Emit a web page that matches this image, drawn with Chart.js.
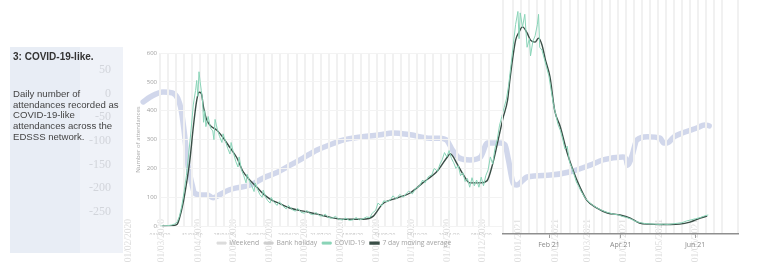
<!DOCTYPE html>
<html>
<head>
<meta charset="utf-8">
<script src="https://cdn.jsdelivr.net/npm/chart.js@4.4.1/dist/chart.umd.min.js"></script>
<style>
  html, body { margin: 0; padding: 0; background: #ffffff; }
  #stage { position: relative; width: 768px; height: 279px; overflow: hidden; background: #ffffff; }
  canvas { position: absolute; top: 0; }
  .panelA { position: absolute; left: 10px; top: 47px; width: 70px; height: 206px; background: #e8edf5; }
  .panelB { position: absolute; left: 80px; top: 47px; width: 43px; height: 206px; background: #eff2f8; }
  .ptitle { position: absolute; left: 13px; top: 51px; font: bold 10px "Liberation Sans", Arial, sans-serif; color: #333; white-space: nowrap; z-index: 10; }
  .pbody { position: absolute; left: 13px; top: 89px; font: 9.6px/10.7px "Liberation Sans", Arial, sans-serif; color: #444; white-space: nowrap; z-index: 10; }
</style>
</head>
<body>
<div id="stage">
  <div class="panelA"></div>
  <div class="panelB"></div>
  <canvas id="ghost" width="768" height="279" style="left:0"></canvas>
  <canvas id="chartA" width="414" height="279" style="left:120px"></canvas>
  <canvas id="chartB" width="768" height="279" style="left:0"></canvas>
  <div class="ptitle">3: COVID-19-like.</div>
  <div class="pbody">Daily number of<br>attendances recorded as<br>COVID-19-like<br>attendances across the<br>EDSSS network.</div>
</div>
<script>
// ---------------- DATA ----------------
const covidDates = ['2020-03-03','2020-03-07','2020-03-10','2020-03-13','2020-03-16','2020-03-18','2020-03-20','2020-03-22','2020-03-24','2020-03-26','2020-03-28','2020-03-30','2020-04-01','2020-04-03','2020-04-04','2020-04-05','2020-04-06','2020-04-07','2020-04-08','2020-04-09','2020-04-10','2020-04-11','2020-04-12','2020-04-14','2020-04-16','2020-04-18','2020-04-19','2020-04-20','2020-04-22','2020-04-24','2020-04-26','2020-04-27','2020-04-29','2020-05-01','2020-05-03','2020-05-04','2020-05-06','2020-05-08','2020-05-10','2020-05-11','2020-05-13','2020-05-15','2020-05-17','2020-05-18','2020-05-20','2020-05-22','2020-05-24','2020-05-25','2020-05-27','2020-05-29','2020-05-31','2020-06-01','2020-06-03','2020-06-05','2020-06-07','2020-06-08','2020-06-10','2020-06-13','2020-06-15','2020-06-18','2020-06-21','2020-06-23','2020-06-26','2020-06-29','2020-07-01','2020-07-04','2020-07-07','2020-07-09','2020-07-12','2020-07-15','2020-07-17','2020-07-20','2020-07-23','2020-07-25','2020-07-28','2020-07-31','2020-08-03','2020-08-06','2020-08-09','2020-08-12','2020-08-15','2020-08-18','2020-08-21','2020-08-24','2020-08-27','2020-08-30','2020-09-02','2020-09-04','2020-09-07','2020-09-09','2020-09-12','2020-09-14','2020-09-17','2020-09-20','2020-09-22','2020-09-25','2020-09-28','2020-10-01','2020-10-04','2020-10-06','2020-10-09','2020-10-12','2020-10-15','2020-10-18','2020-10-20','2020-10-23','2020-10-26','2020-10-28','2020-10-31','2020-11-02','2020-11-04','2020-11-06','2020-11-08','2020-11-10','2020-11-12','2020-11-14','2020-11-16','2020-11-18','2020-11-20','2020-11-22','2020-11-24','2020-11-26','2020-11-28','2020-11-30','2020-12-02','2020-12-04','2020-12-06','2020-12-08','2020-12-10','2020-12-12','2020-12-14','2020-12-16','2020-12-18','2020-12-20','2020-12-22','2020-12-24','2020-12-26','2020-12-28','2020-12-30','2021-01-01','2021-01-03','2021-01-05','2021-01-07','2021-01-09','2021-01-10','2021-01-11','2021-01-13','2021-01-15','2021-01-17','2021-01-19','2021-01-20','2021-01-22','2021-01-24','2021-01-26','2021-01-27','2021-01-28','2021-01-30','2021-02-01','2021-02-03','2021-02-05','2021-02-07','2021-02-09','2021-02-11','2021-02-13','2021-02-15','2021-02-17','2021-02-19','2021-02-21','2021-02-23','2021-02-25','2021-02-27','2021-03-01','2021-03-03','2021-03-05','2021-03-07','2021-03-09','2021-03-12','2021-03-15','2021-03-18','2021-03-21','2021-03-24','2021-03-27','2021-03-30','2021-04-02','2021-04-06','2021-04-10','2021-04-14','2021-04-18','2021-04-22','2021-04-26','2021-04-30','2021-05-04','2021-05-08','2021-05-12','2021-05-16','2021-05-20','2021-05-24','2021-05-28','2021-06-01','2021-06-05','2021-06-09','2021-06-13','2021-06-17','2021-06-21','2021-06-24'];
const covidValues = [0,1,2,4,8,15,35,70,120,175,250,330,420,470,505,450,535,500,470,440,360,400,345,380,340,330,300,370,335,310,290,320,295,270,250,290,255,225,205,240,195,175,150,180,155,140,120,150,128,110,100,125,100,88,80,100,85,72,85,70,60,72,58,52,62,48,45,55,42,40,48,36,35,42,30,28,34,24,22,28,20,22,30,22,26,32,30,45,55,80,70,88,85,92,105,95,110,100,115,122,112,132,138,160,150,172,178,200,190,215,230,255,240,262,235,220,200,210,175,185,155,165,135,168,140,160,135,170,140,175,195,240,215,270,300,350,380,410,440,490,560,630,700,745,650,740,690,735,620,650,590,640,660,700,735,620,610,580,550,520,470,420,385,350,330,300,265,275,220,200,175,150,135,118,105,92,80,70,62,55,50,45,42,38,36,30,26,20,12,8,5,4,3,2,3,2,4,6,8,14,18,22,26,32,35];

const avgDates = ['2020-03-05','2020-03-14','2020-03-18','2020-03-20','2020-03-23','2020-03-26','2020-03-29','2020-04-01','2020-04-04','2020-04-06','2020-04-08','2020-04-10','2020-04-13','2020-04-22','2020-04-27','2020-05-03','2020-05-09','2020-05-14','2020-05-21','2020-05-27','2020-06-01','2020-06-07','2020-06-16','2020-06-24','2020-07-06','2020-07-18','2020-07-29','2020-08-10','2020-08-27','2020-09-05','2020-09-13','2020-09-26','2020-10-07','2020-10-18','2020-10-31','2020-11-08','2020-11-11','2020-11-17','2020-11-22','2020-11-28','2020-12-07','2020-12-13','2020-12-18','2020-12-24','2020-12-27','2020-12-31','2021-01-02','2021-01-07','2021-01-10','2021-01-13','2021-01-17','2021-01-20','2021-01-24','2021-01-27','2021-01-30','2021-02-02','2021-02-06','2021-02-10','2021-02-15','2021-02-21','2021-02-26','2021-03-04','2021-03-10','2021-03-19','2021-03-28','2021-04-08','2021-04-17','2021-04-25','2021-05-04','2021-05-13','2021-05-22','2021-05-30','2021-06-08','2021-06-17','2021-06-23'];
const avgValues = [0,2,7,28,77,146,227,342,436,464,460,411,366,331,307,272,237,192,157,133,112,94,77,63,52,42,31,24,24,35,77,98,115,150,192,237,251,216,181,150,150,157,216,321,373,436,506,645,673,691,670,645,638,652,628,576,516,401,342,251,192,133,87,59,42,35,24,7,3,2,2,3,10,24,31];

// faint background series (other chart, own axis)
const ghostDates = ['2020-02-14','2020-02-20','2020-03-02','2020-03-10','2020-03-17','2020-03-20','2020-03-23','2020-03-27','2020-03-29','2020-04-03','2020-04-09','2020-04-14','2020-04-18','2020-04-22','2020-04-28','2020-05-04','2020-05-16','2020-05-27','2020-06-08','2020-06-19','2020-06-30','2020-07-12','2020-07-23','2020-08-03','2020-08-20','2020-09-04','2020-09-15','2020-09-30','2020-10-17','2020-10-25','2020-10-31','2020-11-05','2020-11-11','2020-11-20','2020-11-29','2020-12-05','2020-12-16','2020-12-20','2020-12-23','2020-12-27','2020-12-30','2021-01-08','2021-01-28','2021-02-14','2021-03-03','2021-03-14','2021-03-31','2021-04-03','2021-04-04','2021-04-08','2021-04-12','2021-04-21','2021-05-02','2021-05-05','2021-05-08','2021-05-14','2021-05-21','2021-06-03','2021-06-09','2021-06-13'];
const ghostValues = [-17.5,-7,3.6,1.5,-28,-77,-146,-193,-210,-214,-214,-220,-216,-210,-203,-199,-193,-178,-166,-151,-136,-119,-108,-98,-91,-87,-83,-87,-94,-94,-98,-119,-136,-140,-134,-104,-104,-108,-140,-189,-193,-176,-172,-165,-151,-140,-134,-140,-151,-130,-98,-91,-94,-104,-104,-91,-83,-72,-66,-68];

const ghostYTicks = [50, 0, -50, -100, -150, -200, -250];
const ghostXTicks = ['01/02/2020','01/03/2020','01/04/2020','01/05/2020','01/06/2020','01/07/2020','01/08/2020','01/09/2020','01/10/2020','01/11/2020','01/12/2020','01/01/2021','01/02/2021','01/03/2021','01/04/2021','01/05/2021','01/06/2021'];
const mainXTicks = ['03/03/20','31/03/20','28/04/20','26/05/20','23/06/20','21/07/20','18/08/20','15/09/20','13/10/20','10/11/20','08/12/20'];
const lateXTickDates = ['2021-02-01','2021-04-01','2021-06-01'];
const lateXTicks = ['Feb 21','Apr 21','Jun 21'];
const yTicks = [0, 100, 200, 300, 400, 500, 600];
const legendNames = ['Weekend', 'Bank holiday', 'COVID-19', '7 day moving average'];

// ---------------- helpers ----------------
const BASE = Date.UTC(2020, 2, 3);
function dayIso(s) { const [y, m, d] = s.split('-').map(Number); return (Date.UTC(y, m - 1, d) - BASE) / 864e5; }
function dayDMY(s) { let [d, m, y] = s.split('/').map(Number); if (y < 100) y += 2000; return (Date.UTC(y, m - 1, d) - BASE) / 864e5; }
const covidPts = covidDates.map((d, i) => ({ x: dayIso(d), y: covidValues[i] }));
const avgPts = avgDates.map((d, i) => ({ x: dayIso(d), y: avgValues[i] }));
const ghostPts = ghostDates.map((d, i) => ({ x: dayIso(d), y: ghostValues[i] }));

Chart.defaults.font.family = '"Open Sans", "DejaVu Sans", sans-serif';
Chart.defaults.devicePixelRatio = 1;
const base = { responsive: false, animation: false, events: [], plugins: { legend: { display: false }, tooltip: { enabled: false } } };

const COVID_COL = '#8ad4b8';
const AVG_COL = '#3a4f47';
const WEEK_GRID = '#f1f1f1';

// ---------------- ghost background chart ----------------
new Chart(document.getElementById('ghost'), {
  type: 'line',
  data: { datasets: [{ data: ghostPts, borderColor: 'rgba(198,205,230,0.8)', borderWidth: 5.5, pointRadius: 0, cubicInterpolationMode: 'monotone', borderCapStyle: 'round', borderJoinStyle: 'round', clip: false }] },
  options: Object.assign({}, base, {
    layout: { padding: { top: 70, right: 28, left: 0, bottom: 0 }, autoPadding: false },
    scales: {
      x: { type: 'linear', min: -41.3, max: 493.4,
        afterBuildTicks: s => { s.ticks = ghostXTicks.map(t => ({ value: dayDMY(t) })); },
        ticks: { autoSkip: false, minRotation: 90, maxRotation: 90, padding: 7, color: '#dedede', font: { size: 9.5, family: '"Liberation Serif", "DejaVu Serif", serif' }, callback: (v, i) => ghostXTicks[i] },
        grid: { display: false, drawTicks: false }, border: { display: false },
        afterFit: s => { s.height = 67; } },
      y: { min: -250, max: 50,
        afterBuildTicks: s => { s.ticks = ghostYTicks.map(v => ({ value: v })); },
        ticks: { padding: 5, color: '#d2d5db', font: { size: 12, family: '"Liberation Serif", "DejaVu Serif", serif' } },
        grid: { display: false, drawTicks: false }, border: { display: false },
        afterFit: s => { s.width = 116; } }
    }
  })
});

// ---------------- main chart (2020 part) ----------------
new Chart(document.getElementById('chartA'), {
  type: 'line',
  data: { datasets: [
    { label: legendNames[0], data: [], borderColor: '#dcdcdc', backgroundColor: '#dcdcdc', borderWidth: 1 },
    { label: legendNames[1], data: [], borderColor: '#cfcfcf', backgroundColor: '#cfcfcf', borderWidth: 1 },
    { label: legendNames[2], data: covidPts, borderColor: COVID_COL, backgroundColor: COVID_COL, borderWidth: 1, pointRadius: 0, tension: 0 },
    { label: legendNames[3], data: avgPts, borderColor: AVG_COL, backgroundColor: AVG_COL, borderWidth: 1.4, pointRadius: 0, cubicInterpolationMode: 'monotone' }
  ] },
  options: Object.assign({}, base, {
    layout: { padding: { top: 53, right: 0, left: 14.4, bottom: 22.5 }, autoPadding: false },
    plugins: {
      tooltip: { enabled: false },
      legend: { display: true, position: 'bottom',
        labels: { boxWidth: 9, boxHeight: 2, padding: 5, color: '#a3a3a3', font: { size: 6.8 } } }
    },
    scales: {
      x: { type: 'linear', min: 0, max: 299.0,
        afterBuildTicks: s => { s.ticks = mainXTicks.map(t => ({ value: dayDMY(t) })); },
        ticks: { autoSkip: false, maxRotation: 0, padding: 6, color: '#bbbbbb', font: { size: 5 }, callback: (v, i) => mainXTicks[i] },
        grid: { display: false, drawTicks: false }, border: { display: false },
        afterFit: s => { s.height = 8.5; } },
      xw: { type: 'linear', position: 'bottom', min: 0, max: 299.0,
        ticks: { display: false, stepSize: 7, maxTicksLimit: 1000 },
        grid: { color: WEEK_GRID, lineWidth: 2, drawTicks: false }, border: { display: false },
        afterFit: s => { s.height = 0; } },
      y: { min: 0, max: 600,
        afterBuildTicks: s => { s.ticks = yTicks.map(v => ({ value: v })); },
        ticks: { padding: 3, color: '#9e9e9e', font: { size: 6 } },
        grid: { color: '#f3f3f3', drawTicks: false }, border: { display: false },
        title: { display: true, text: 'Number of attendances', color: '#ababab', font: { size: 6 }, padding: 0 },
        afterFit: s => { s.width = 25.6; } },
      yr: { position: 'right', display: true,
        ticks: { display: false }, grid: { display: false, drawTicks: false },
        border: { display: true, color: '#e3e3e3' },
        afterFit: s => { s.width = 31; } }
    }
  })
});

// ---------------- overlay chart (2021 part) ----------------
new Chart(document.getElementById('chartB'), {
  type: 'line',
  data: { datasets: [
    { label: legendNames[2], data: covidPts, borderColor: COVID_COL, borderWidth: 1, pointRadius: 0, tension: 0 },
    { label: legendNames[3], data: avgPts, borderColor: AVG_COL, borderWidth: 1.4, pointRadius: 0, cubicInterpolationMode: 'monotone' }
  ] },
  options: Object.assign({}, base, {
    layout: { padding: { top: 0, right: 30, left: 503, bottom: 0 }, autoPadding: false },
    scales: {
      x: { type: 'linear', display: false, min: 299.0, max: 503.9 },
      xw: { type: 'linear', position: 'bottom', min: 299.0, max: 503.9,
        ticks: { display: false, stepSize: 7, maxTicksLimit: 1000 },
        grid: { color: WEEK_GRID, lineWidth: 2, drawTicks: false }, border: { display: false },
        afterFit: s => { s.height = 0; } },
      xt: { type: 'linear', position: 'bottom', min: 297.2, max: 490.3,
        afterBuildTicks: s => { s.ticks = lateXTickDates.map(t => ({ value: dayIso(t) })); },
        ticks: { autoSkip: false, maxRotation: 0, padding: 3, color: '#8a8a8a', font: { size: 7 }, callback: (v, i) => lateXTicks[i] },
        grid: { drawOnChartArea: false, tickLength: 4, color: '#a0a0a0' },
        border: { display: true, color: '#8f8f8f', width: 1.5 },
        afterFit: s => { s.height = 45; } },
      y: { display: false, min: -31.4, max: 784.9 }
    }
  })
});
</script>
</body>
</html>
